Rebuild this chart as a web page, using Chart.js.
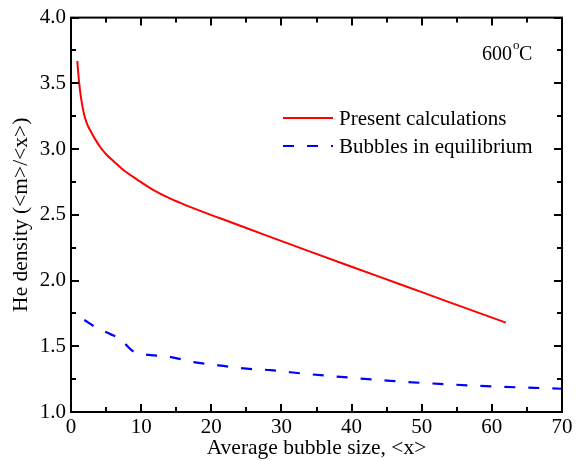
<!DOCTYPE html>
<html>
<head>
<meta charset="utf-8">
<script src="https://cdn.jsdelivr.net/npm/chart.js@4"></script>
<style>
  html, body { margin: 0; padding: 0; background: #fff; }
  #wrap { width: 585px; height: 461px; }
</style>
</head>
<body>
<div id="wrap"><canvas id="myChart" width="585" height="461"></canvas></div>
<script>
// values
const presentX = [0.9, 1.0, 1.14, 1.43, 1.86, 2.3, 2.81, 3.5, 4.24, 5.1, 6.04, 7.6, 9.38, 11.7, 14.1, 16.5, 18.9, 22.7, 28, 34.1, 40, 47, 53.7, 62];
const presentY = [3.67, 3.60, 3.515, 3.39, 3.265, 3.19, 3.136, 3.07, 3.01, 2.955, 2.909, 2.835, 2.77, 2.69, 2.625, 2.57, 2.52, 2.445, 2.34, 2.22, 2.105, 1.97, 1.84, 1.68];
const equilX = [1.9, 3.5, 5.5, 7.0, 8.9, 10.3, 14, 17.5, 21, 25, 28.5, 33.5, 38.5, 45.5, 52.5, 60, 70];
const equilY = [1.70, 1.645, 1.595, 1.555, 1.46, 1.44, 1.42, 1.38, 1.355, 1.33, 1.318, 1.29, 1.267, 1.237, 1.214, 1.195, 1.177];
const seriesNames = ['Present calculations', 'Bubbles in equilibrium'];
const xTicks = [0, 10, 20, 30, 40, 50, 60, 70];
const yTicks = [1.0, 1.5, 2.0, 2.5, 3.0, 3.5, 4.0];
const tempLabel = '600';

const serif = "'Liberation Serif', 'Times New Roman', serif";

function toPoints(xs, ys) {
    return xs.map((x, i) => ({ x: x, y: ys[i] }));
}

// frame with inward ticks on all four sides
const framePlugin = {
    id: 'frame',
    afterDraw(chart) {
        const { ctx, chartArea: a, scales: { x, y } } = chart;
        ctx.save();
        ctx.strokeStyle = '#000';
        ctx.lineWidth = 2;
        ctx.strokeRect(a.left, a.top, a.right - a.left, a.bottom - a.top);
        ctx.beginPath();
        for (let v = xTicks[0]; v <= xTicks[xTicks.length - 1]; v += 5) {
            const px = Math.round(x.getPixelForValue(v));
            const len = v % 10 === 0 ? 8 : 5;
            ctx.moveTo(px, a.bottom); ctx.lineTo(px, a.bottom - len);
            ctx.moveTo(px, a.top); ctx.lineTo(px, a.top + len);
        }
        for (let v = yTicks[0]; v <= yTicks[yTicks.length - 1] + 0.001; v += 0.25) {
            const py = Math.round(y.getPixelForValue(v));
            const len = Math.abs(v * 2 - Math.round(v * 2)) < 0.01 ? 8 : 5;
            ctx.moveTo(a.left, py); ctx.lineTo(a.left + len, py);
            ctx.moveTo(a.right, py); ctx.lineTo(a.right - len, py);
        }
        ctx.stroke();
        ctx.restore();
    }
};

// legend and temperature note drawn inside the plot
const notePlugin = {
    id: 'note',
    afterDatasetsDraw(chart) {
        const { ctx } = chart;
        ctx.save();
        ctx.font = '21px ' + serif;
        ctx.textBaseline = 'middle';
        ctx.fillStyle = '#000';
        const rows = [118, 146];
        chart.data.datasets.forEach((ds, i) => {
            ctx.strokeStyle = ds.borderColor;
            ctx.lineWidth = ds.borderWidth;
            ctx.setLineDash(ds.borderDash || []);
            ctx.beginPath();
            ctx.moveTo(283, rows[i]);
            ctx.lineTo(333, rows[i]);
            ctx.stroke();
            ctx.setLineDash([]);
            ctx.fillText(ds.label, 339, rows[i] + 1);
        });

        ctx.textBaseline = 'alphabetic';
        ctx.font = '20px ' + serif;
        ctx.fillText(tempLabel, 482, 60);
        let w = ctx.measureText(tempLabel).width;
        ctx.font = '13px ' + serif;
        ctx.fillText('o', 482 + w + 1, 49);
        ctx.font = '20px ' + serif;
        ctx.fillText('C', 482 + w + 7, 60);
        ctx.restore();
    }
};

const ctx = document.getElementById('myChart').getContext('2d');
const chart = new Chart(ctx, {
    type: 'scatter',
    data: {
        datasets: [{
            label: seriesNames[0],
            data: toPoints(presentX, presentY),
            showLine: true,
            borderColor: '#ff0000',
            borderWidth: 2,
            pointRadius: 0,
            cubicInterpolationMode: 'monotone'
        }, {
            label: seriesNames[1],
            data: toPoints(equilX, equilY),
            showLine: true,
            borderColor: '#0000ff',
            borderWidth: 2.2,
            borderDash: [11, 13],
            pointRadius: 0,
            cubicInterpolationMode: 'monotone'
        }]
    },
    options: {
        responsive: false,
        animation: false,
        layout: { padding: { top: 17, right: 23, left: 0, bottom: 0 } },
        plugins: {
            legend: { display: false },
            tooltip: { enabled: false }
        },
        scales: {
            x: {
                type: 'linear',
                min: 0,
                max: 70,
                afterFit: s => { s.height = 49; },
                afterBuildTicks: s => { s.ticks = xTicks.map(v => ({ value: v })); },
                grid: { display: false, drawTicks: false },
                border: { display: false },
                ticks: {
                    padding: 3,
                    color: '#000',
                    font: { family: serif, size: 21 },
                    callback: v => String(v)
                },
                title: {
                    display: true,
                    text: 'Average bubble size, <x>',
                    color: '#000',
                    font: { family: serif, size: 21.5 },
                    padding: { top: 0, bottom: 0 }
                }
            },
            y: {
                type: 'linear',
                min: 1,
                max: 4,
                afterFit: s => { s.width = 71; },
                afterBuildTicks: s => { s.ticks = yTicks.map(v => ({ value: v })); },
                grid: { display: false, drawTicks: false },
                border: { display: false },
                ticks: {
                    padding: 5,
                    color: '#000',
                    font: { family: serif, size: 21 },
                    callback: v => Number(v).toFixed(1)
                },
                title: {
                    display: true,
                    text: 'He density (<m>/<x>)',
                    color: '#000',
                    font: { family: serif, size: 21.5 },
                    padding: { top: 8, bottom: 0 }
                }
            }
        }
    },
    plugins: [framePlugin, notePlugin]
});
</script>
</body>
</html>
